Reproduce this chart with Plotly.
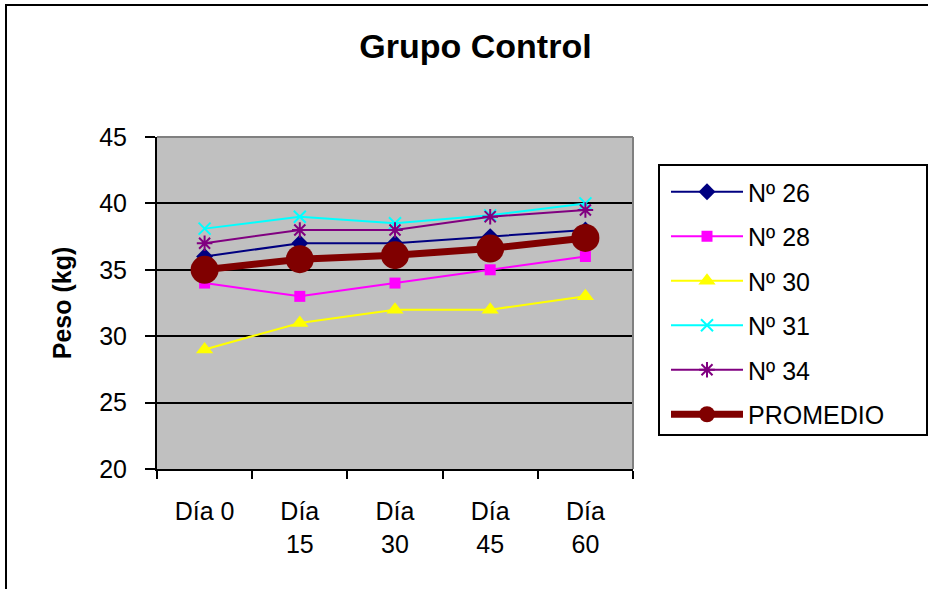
import plotly.graph_objects as go

categories = ["Día 0", "Día<br>15", "Día<br>30", "Día<br>45", "Día<br>60"]
n26 = [36, 37, 37, 37.5, 38]
n28 = [34, 33, 34, 35, 36]
n30 = [29, 31, 32, 32, 33]
n31 = [38.1, 39, 38.5, 39.1, 40]
n34 = [37, 38, 38, 39, 39.5]
promedio = [35, 35.8, 36.1, 36.6, 37.4]

FONT = "Liberation Sans, Arial, sans-serif"

series = [
    ("Nº 26", n26, "#000080", "diamond", 13, 2),
    ("Nº 28", n28, "#FF00FF", "square", 11, 2),
    ("Nº 30", n30, "#FFFF00", "triangle-up", 15, 2),
    ("Nº 31", n31, "#00FFFF", "x-thin-open", 12, 2),
    ("Nº 34", n34, "#800080", "asterisk-open", 13, 2),
    ("PROMEDIO", promedio, "#800000", "circle", 28, 7),
]

fig = go.Figure()
for i, (name, vals, color, sym, size, lw) in enumerate(series):
    mk = dict(symbol=sym, size=size, color=color)
    if sym.endswith("-open"):
        mk["line"] = dict(color=color, width=2)
    fig.add_trace(go.Scatter(
        x=categories, y=vals, name=name, mode="lines+markers",
        line=dict(color=color, width=lw), marker=mk,
        legendgroup=f"g{i}",
    ))

W, H = 928, 589
L, R, T, B = 157, 295, 137, 120
pw, ph = W - L - R, H - T - B

def px(x):
    return (x - L) / pw

def py(y):
    return 1 + (T - y) / ph

shapes = [
    # outer chart border
    dict(type="rect", xref="paper", yref="paper", x0=px(6), x1=px(1200), y0=py(800), y1=py(5),
         line=dict(color="black", width=2), fillcolor="rgba(0,0,0,0)", layer="below"),
    # legend box
    dict(type="rect", xref="paper", yref="paper", x0=px(659), x1=px(927), y0=py(435), y1=py(165),
         line=dict(color="black", width=2), fillcolor="white", layer="below"),
    # plot area border (top and right, gray)
    dict(type="line", xref="paper", yref="paper", x0=0, x1=1, y0=1, y1=1,
         line=dict(color="#808080", width=2), layer="above"),
    dict(type="line", xref="paper", yref="paper", x0=1, x1=1, y0=0, y1=1,
         line=dict(color="#808080", width=2), layer="above"),
]

fig.update_layout(
    width=W, height=H,
    margin=dict(l=L, r=R, t=T, b=B),
    paper_bgcolor="white",
    plot_bgcolor="#C0C0C0",
    font=dict(family=FONT, color="black", size=24),
    title=dict(text="<b>Grupo Control</b>", x=475.5 / W, xanchor="center",
               y=1 - 46 / H, yanchor="middle", yref="container",
               font=dict(family=FONT, size=34, color="black")),
    xaxis=dict(type="category", tickson="boundaries", showgrid=False,
               showline=True, linecolor="black", linewidth=2,
               ticks="outside", ticklen=8, tickwidth=2, tickcolor="black",
               ticklabelstandoff=19,
               tickfont=dict(family=FONT, size=25, color="black"),
               range=[-0.5, 4.5], fixedrange=True),
    yaxis=dict(range=[20, 45], dtick=5, tick0=20,
               showgrid=True, gridcolor="black", gridwidth=2,
               showline=True, linecolor="black", linewidth=2,
               ticks="outside", ticklen=10, tickwidth=2, tickcolor="black",
               ticklabelstandoff=13,
               tickfont=dict(family=FONT, size=25, color="black"),
               title=dict(text="<b>Peso (kg)</b>", standoff=20,
                          font=dict(family=FONT, size=25, color="black")),
               zeroline=False, fixedrange=True),
    legend=dict(x=px(666), y=py(169), xanchor="left", yanchor="top",
                bgcolor="rgba(0,0,0,0)", borderwidth=0,
                font=dict(family=FONT, size=25, color="black"),
                tracegroupgap=9, itemwidth=72, traceorder="grouped"),
    shapes=shapes,
    showlegend=True,
)

fig.write_html(
    "out.html",
    config={"displayModeBar": False, "staticPlot": True},
    post_script="document.body.style.margin='0';document.body.style.overflow='hidden';",
)
